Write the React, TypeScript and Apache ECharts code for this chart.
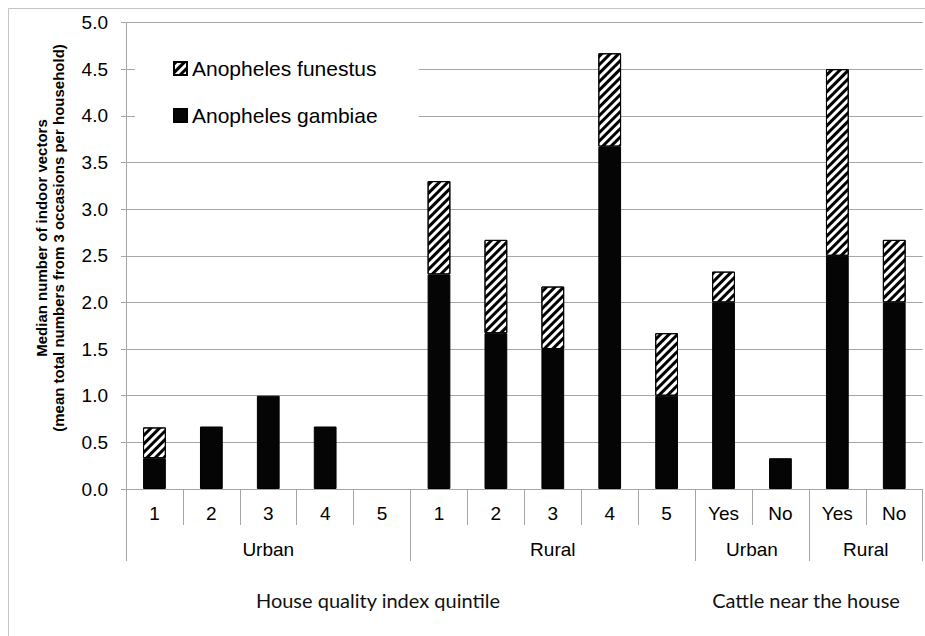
import React, { useEffect, useRef } from "react";
import * as echarts from "echarts";

const categories = ["1", "2", "3", "4", "5", "1", "2", "3", "4", "5", "Yes", "No", "Yes", "No"];
const gambiae = [0.33, 0.67, 1.0, 0.67, 0, 2.3, 1.67, 1.5, 3.67, 1.0, 2.0, 0.33, 2.5, 2.0];
const funestus = [0.33, 0, 0, 0, 0, 1.0, 1.0, 0.67, 1.0, 0.67, 0.33, 0, 2.0, 0.67];
const groupNames = ["Urban", "Rural", "Urban", "Rural"];
const groupBounds = [0, 5, 10, 12, 14];
const yTicks = { min: 0, max: 5, interval: 0.5 };
const seriesNames = ["Anopheles funestus", "Anopheles gambiae"];
const yTitle = ["Median number of indoor vectors", "(mean total numbers from 3 occasions per household)"];
const bottomTitles = ["House quality index quintile", "Cattle near the house"];

const groupCenters = groupNames.map((_, i) => (groupBounds[i] + groupBounds[i + 1]) / 2);

export default function App() {
  const ref = useRef<HTMLDivElement>(null);
  useEffect(() => {
    if (!ref.current) return;
    const chart = echarts.init(ref.current, null, { renderer: "svg" });
    const axisGray = "#a6a6a6";
    const arial = "Arial, 'Liberation Sans', sans-serif";
    const stripe = {
      symbol: "rect",
      symbolSize: 1,
      dashArrayX: [1, 0],
      dashArrayY: [2.6, 2.4],
      rotation: -Math.PI / 4,
      color: "#000",
      backgroundColor: "#fff",
    };
    chart.setOption({
      animation: false,
      backgroundColor: "#fff",
      grid: { left: 126, top: 22.5, right: 2.3, bottom: 147, containLabel: false },
      legend: {
        data: seriesNames,
        orient: "vertical",
        left: 135,
        top: 35,
        padding: [23, 41, 24, 38],
        itemGap: 26,
        itemWidth: 13,
        itemHeight: 13,
        icon: "rect",
        backgroundColor: "#fff",
        textStyle: { fontFamily: arial, fontSize: 21, color: "#000" },
      },
      xAxis: [
        {
          type: "category",
          data: categories,
          position: "bottom",
          axisLine: { lineStyle: { color: axisGray, width: 1 } },
          axisTick: { show: true, interval: 0, length: 36, lineStyle: { color: axisGray } },
          axisLabel: { interval: 0, fontFamily: arial, fontSize: 19, color: "#000", margin: 15 },
          splitLine: { show: false },
        },
        {
          type: "value",
          min: 0,
          max: 14,
          position: "bottom",
          axisLine: { show: false },
          axisTick: { show: true, length: 72, customValues: groupBounds, lineStyle: { color: axisGray } },
          axisLabel: {
            customValues: groupCenters,
            formatter: (v: number) => {
              const i = groupCenters.indexOf(v);
              return i >= 0 ? groupNames[i] : "";
            },
            fontFamily: arial,
            fontSize: 19,
            color: "#000",
            margin: 51,
          },
          splitLine: { show: false },
        },
      ],
      yAxis: {
        type: "value",
        min: yTicks.min,
        max: yTicks.max,
        interval: yTicks.interval,
        axisLine: { show: true, lineStyle: { color: axisGray } },
        axisTick: { show: true, length: 5, lineStyle: { color: axisGray } },
        axisLabel: {
          formatter: (v: number) => v.toFixed(1),
          fontFamily: arial,
          fontSize: 19,
          color: "#000",
          margin: 18,
        },
        splitLine: { show: true, lineStyle: { color: axisGray, width: 1 } },
      },
      series: [
        {
          name: seriesNames[1],
          type: "bar",
          stack: "total",
          barWidth: "40%",
          data: gambiae.map((v) => (v === 0 ? null : v)),
          itemStyle: { color: "#050505", borderColor: "#000", borderWidth: 1 },
        },
        {
          name: seriesNames[0],
          type: "bar",
          stack: "total",
          barWidth: "40%",
          data: funestus.map((v) => (v === 0 ? null : v)),
          itemStyle: { color: "#fff", borderColor: "#000", borderWidth: 1, decal: stripe },
        },
      ],
      graphic: [
        {
          type: "rect",
          shape: { x: 8.5, y: 8.5, width: 1200, height: 1200 },
          style: { fill: "none", stroke: "#c4c4c4", lineWidth: 1 },
          silent: true,
          z: -10,
        },
        {
          type: "text",
          x: 50,
          y: 238,
          rotation: Math.PI / 2,
          style: {
            text: yTitle.join("\n"),
            font: "bold 15px Arial, 'Liberation Sans', sans-serif",
            fill: "#000",
            align: "center",
            verticalAlign: "middle",
            lineHeight: 17,
          },
        },
        {
          type: "text",
          x: 378,
          y: 600,
          style: {
            text: bottomTitles[0],
            font: "20px Lato, sans-serif",
            fill: "#111",
            align: "center",
            verticalAlign: "middle",
          },
        },
        {
          type: "text",
          x: 806,
          y: 600,
          style: {
            text: bottomTitles[1],
            font: "20px Lato, sans-serif",
            fill: "#111",
            align: "center",
            verticalAlign: "middle",
          },
        },
      ],
    });
    return () => chart.dispose();
  }, []);
  return (
    <div
      ref={ref}
      style={{ position: "absolute", left: 0, top: 0, width: 925, height: 636 }}
    />
  );
}
